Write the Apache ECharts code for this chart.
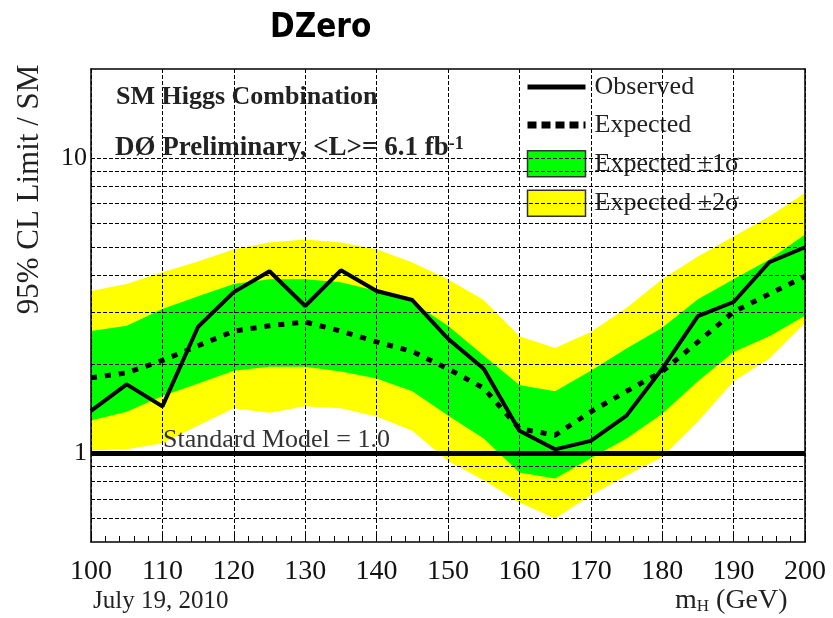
<!DOCTYPE html>
<html>
<head>
<meta charset="utf-8">
<script src="https://cdn.jsdelivr.net/npm/echarts@6/dist/echarts.min.js"></script>
<style>html,body{margin:0;padding:0;background:#fff;}#c{width:833px;height:618px;}</style>
</head>
<body>
<div id="c"></div>
<script>
// ---- data ----
const mass = [100,105,110,115,120,125,130,135,140,145,150,155,160,165,170,175,180,185,190,195,200];
const observed = [1.39,1.71,1.44,2.68,3.51,4.13,3.15,4.16,3.54,3.30,2.44,1.93,1.19,1.03,1.10,1.34,1.93,2.91,3.25,4.43,4.98];
const expected = [1.80,1.87,2.06,2.31,2.59,2.70,2.78,2.59,2.38,2.21,1.93,1.66,1.21,1.15,1.38,1.62,1.89,2.38,3.01,3.46,3.97];
const sigma1Up = [2.59,2.70,3.08,3.40,3.74,3.88,3.88,3.79,3.54,3.25,2.70,2.14,1.70,1.62,1.90,2.26,2.66,3.32,3.88,4.53,5.50];
const sigma1Dn = [1.29,1.38,1.56,1.72,1.90,1.96,1.96,1.89,1.79,1.62,1.34,1.12,0.86,0.82,0.96,1.12,1.36,1.75,2.20,2.49,2.92];
const sigma2Up = [3.54,3.74,4.10,4.46,4.90,5.17,5.29,5.17,4.90,4.42,3.88,3.30,2.49,2.27,2.57,3.10,3.88,4.63,5.42,6.33,7.60];
const sigma2Dn = [1.02,1.03,1.08,1.24,1.42,1.37,1.44,1.42,1.33,1.19,0.94,0.81,0.68,0.60,0.72,0.84,0.97,1.28,1.75,2.09,2.76];
const smValue = 1.0;
const gridValues = [0.6,0.7,0.8,0.9,2,3,4,5,6,7,8,9,10];
const yLabelValues = [1,10];

const SERIF = "'Liberation Serif', 'Times New Roman', serif";
const chart = echarts.init(document.getElementById('c'), null, {renderer:'canvas'});

function bandRender(up, dn){
  return function(params, api){
    if (params.dataIndex !== 0) return;
    const pts = [];
    for (let i = 0; i < mass.length; i++) pts.push(api.coord([mass[i], up[i]]));
    for (let i = mass.length - 1; i >= 0; i--) pts.push(api.coord([mass[i], dn[i]]));
    return {type:'polygon', shape:{points:pts}, style:{fill:api.visual('color')}};
  };
}

const hiddenSymbol = {color:'rgba(0,0,0,0)', borderColor:'rgba(0,0,0,0)', borderWidth:0, opacity:0};

const option = {
  backgroundColor:'#fff',
  animation:false,
  title:[
    {text:'DZero', left:270, top:12, padding:0,
     textStyle:{fontFamily:"'Liberation Sans Narrow','DejaVu Sans Condensed','Liberation Sans',sans-serif", fontWeight:'bold', fontSize:33, color:'#000'}},
    {text:'SM Higgs Combination', left:116, top:84, padding:0,
     textStyle:{fontFamily:SERIF, fontWeight:'bold', fontSize:26, color:'#222'}},
    {text:'{b|DØ Preliminary, <L>= 6.1 fb}{s|-1}', left:115, top:135, padding:0,
     textStyle:{rich:{b:{fontFamily:SERIF, fontWeight:'bold', fontSize:27, color:'#222'},
                      s:{fontFamily:SERIF, fontWeight:'bold', fontSize:18, color:'#222', verticalAlign:'top'}}}},
    {text:'Standard Model = 1.0', left:163, top:427, padding:0,
     textStyle:{fontFamily:SERIF, fontWeight:'normal', fontSize:26, color:'#333'}},
    {text:'July 19, 2010', left:93, top:589, padding:0,
     textStyle:{fontFamily:SERIF, fontWeight:'normal', fontSize:25, color:'#222'}},
    {text:'{m|m}{h|H}{m| (GeV)}', left:675, top:587, padding:0,
     textStyle:{fontWeight:'normal', rich:{m:{fontFamily:SERIF, fontWeight:'normal', fontSize:28, color:'#222'},
                      h:{fontFamily:SERIF, fontWeight:'normal', fontSize:17, color:'#222', verticalAlign:'bottom', padding:[10,0,0,0]}}}}
  ],
  legend:{
    orient:'vertical', left:524, top:74, padding:0, itemWidth:58, itemHeight:26, itemGap:12,
    textStyle:{fontFamily:SERIF, fontSize:26, color:'#222', padding:[0,0,0,4]},
    data:[
      {name:'Observed', itemStyle:hiddenSymbol, lineStyle:{width:5, color:'#000'}},
      {name:'Expected', itemStyle:hiddenSymbol, lineStyle:{width:7, color:'#000', type:[9,5]}},
      {name:'Expected ±1σ', icon:'rect', itemStyle:{borderColor:'#333', borderWidth:1.5}},
      {name:'Expected ±2σ', icon:'rect', itemStyle:{borderColor:'#333', borderWidth:1.5}}
    ]
  },
  grid:{left:91, right:28, top:69, bottom:76, containLabel:false, show:false},
  xAxis:[{
    type:'value', min:100, max:200, interval:10, z:6,
    axisLine:{show:true, onZero:false, lineStyle:{color:'#000', width:1.5}},
    axisTick:{show:true, inside:true, length:7, lineStyle:{color:'#000'}},
    minorTick:{show:true, splitNumber:5, length:6, lineStyle:{color:'#000'}},
    splitLine:{show:true, lineStyle:{color:'#000', width:1, type:[4,2]}},
    axisLabel:{fontFamily:SERIF, fontSize:28, color:'#111', margin:16}
  },{
    type:'value', min:0, max:1, position:'top', z:6,
    axisLine:{show:true, onZero:false, lineStyle:{color:'#000', width:1.5}},
    axisTick:{show:false}, axisLabel:{show:false}, splitLine:{show:false}
  }],
  yAxis:[{
    type:'log', logBase:10, min:0.5, max:20, z:6,
    name:'95% CL Limit / SM', nameLocation:'middle', nameGap:46,
    nameTextStyle:{fontFamily:SERIF, fontSize:31, color:'#222', padding:[0,0,0,232]},
    axisLine:{show:true, onZero:false, lineStyle:{color:'#000', width:1.5}},
    axisTick:{show:false},
    splitLine:{show:false},
    axisLabel:{fontFamily:SERIF, fontSize:26, color:'#111', margin:4,
      formatter:function(v){
        for (const t of yLabelValues) if (Math.abs(v - t) < 1e-6 * t) return String(t);
        return '';
      }}
  },{
    type:'value', min:0, max:1, position:'right', z:6,
    axisLine:{show:true, onZero:false, lineStyle:{color:'#000', width:1.5}},
    axisTick:{show:false}, axisLabel:{show:false}, splitLine:{show:false}
  }],
  series:[
    {name:'Expected ±2σ', type:'custom', z:1, clip:true, color:'#ffff00',
     data:mass.map((m,i)=>[m, sigma2Up[i], sigma2Dn[i]]), encode:{x:0, y:[1,2]},
     renderItem:bandRender(sigma2Up, sigma2Dn), silent:true},
    {name:'Expected ±1σ', type:'custom', z:2, clip:true, color:'#00ff00',
     data:mass.map((m,i)=>[m, sigma1Up[i], sigma1Dn[i]]), encode:{x:0, y:[1,2]},
     renderItem:bandRender(sigma1Up, sigma1Dn), silent:true},
    {name:'Expected', type:'line', z:3, symbol:'none', color:'#000',
     data:mass.map((m,i)=>[m, expected[i]]),
     lineStyle:{color:'#000', width:5, type:[6,8]}, silent:true},
    {name:'Observed', type:'line', z:4, symbol:'none', color:'#000',
     data:mass.map((m,i)=>[m, observed[i]]),
     lineStyle:{color:'#000', width:4}, silent:true,
     markLine:{silent:true, symbol:'none', label:{show:false}, animation:false,
       data: gridValues.map(v=>({yAxis:v, lineStyle:{color:'#000', width:1, type:[4,2]}}))
         .concat([{yAxis:smValue, lineStyle:{color:'#000', width:5, type:'solid'}}])
     }}
  ]
};
chart.setOption(option);
</script>
</body>
</html>
